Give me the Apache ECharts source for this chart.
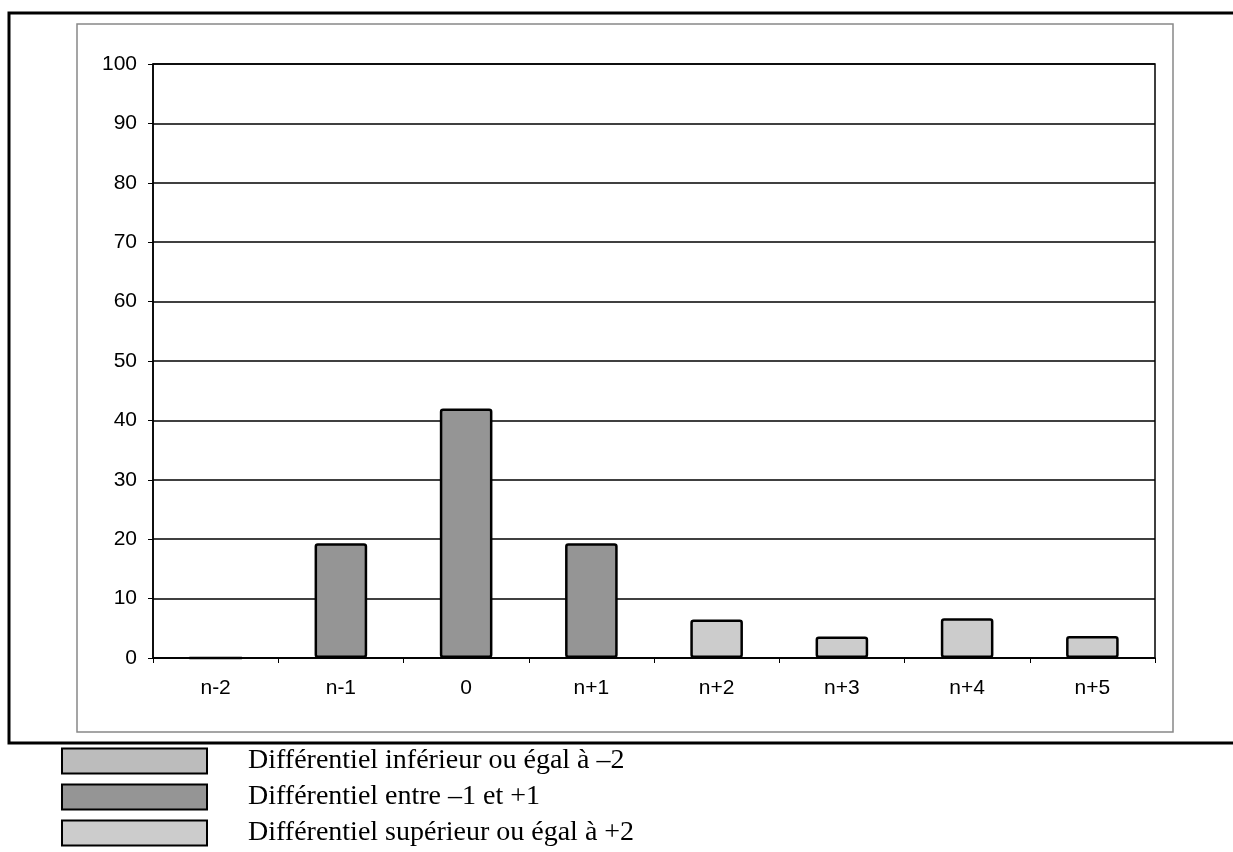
<!DOCTYPE html>
<html>
<head>
<meta charset="utf-8">
<script src="https://cdn.jsdelivr.net/npm/echarts@6/dist/echarts.min.js"></script>
<style>html,body{margin:0;padding:0;background:#fff}#c{width:1233px;height:852px}</style>
</head>
<body>
<div id="c"></div>
<script>
var categories = ['n-2', 'n-1', '0', 'n+1', 'n+2', 'n+3', 'n+4', 'n+5'];
var seriesNames = ['Différentiel inférieur ou égal à –2', 'Différentiel entre –1 et +1', 'Différentiel supérieur ou égal à +2'];
var inferieur = [0, null, null, null, null, null, null, null];
var entre = [null, 19.3, 42.0, 19.3, null, null, null, null];
var superieur = [null, null, null, null, 6.5, 3.6, 6.7, 3.7];
var yTicks = [0, 10, 20, 30, 40, 50, 60, 70, 80, 90, 100];

var colors = ['#bcbcbc', '#959595', '#cccccc'];
var chart = echarts.init(document.getElementById('c'), null, {renderer: 'canvas'});
function bar(name, data, color) {
  return {
    name: name, type: 'bar', stack: 'all', data: data, barWidth: '42%',
    itemStyle: {color: color, borderColor: '#000', borderWidth: 2.5, borderRadius: 2},
    emphasis: {disabled: true}
  };
}
chart.setOption({
  animation: false,
  backgroundColor: '#fff',
  grid: {left: 153, right: 78, top: 64, bottom: 194, show: true, borderColor: '#000', borderWidth: 1.5, backgroundColor: 'transparent'},
  xAxis: {
    type: 'category', data: categories,
    axisLine: {lineStyle: {color: '#000', width: 1.5}},
    axisTick: {show: true, length: 5, inside: false, lineStyle: {color: '#000'}},
    axisLabel: {color: '#000', fontFamily: 'Liberation Sans', fontSize: 21, margin: 20},
    splitLine: {show: false}
  },
  yAxis: {
    type: 'value', min: yTicks[0], max: yTicks[yTicks.length - 1], interval: 10,
    axisLine: {show: true, lineStyle: {color: '#000', width: 1.5}},
    axisTick: {show: true, length: 5, lineStyle: {color: '#000'}},
    axisLabel: {color: '#000', fontFamily: 'Liberation Sans', fontSize: 21, margin: 16},
    splitLine: {show: true, lineStyle: {color: '#000', width: 1.5}}
  },
  legend: {
    orient: 'vertical', left: 61, top: 747, height: 140, padding: 0,
    itemWidth: 145, itemHeight: 25, itemGap: 8,
    icon: 'rect', selectedMode: false,
    data: seriesNames,
    textStyle: {color: '#000', fontFamily: 'Liberation Serif', fontSize: 28, lineHeight: 25, padding: [0, 0, 0, 36]}
  },
  graphic: [
    {type: 'rect', silent: true, shape: {x: 77, y: 24, width: 1096, height: 708}, style: {fill: 'none', stroke: '#888', lineWidth: 1.5}},
    {type: 'polyline', silent: true, shape: {points: [[1233, 13], [9, 13], [9, 743], [1233, 743]]}, style: {fill: 'none', stroke: '#000', lineWidth: 3}}
  ],
  series: [
    bar(seriesNames[0], inferieur, colors[0]),
    bar(seriesNames[1], entre, colors[1]),
    bar(seriesNames[2], superieur, colors[2])
  ]
});
</script>
</body>
</html>
